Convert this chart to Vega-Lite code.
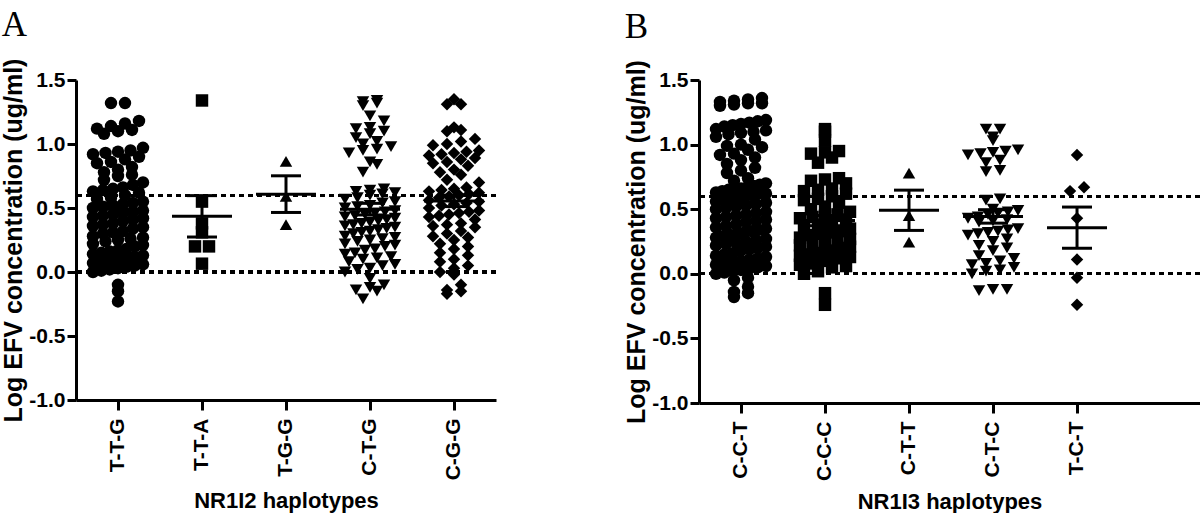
{
  "$schema": "https://vega.github.io/schema/vega-lite/v6.json",
  "background": "white",
  "padding": {"left": 1, "top": 8, "right": 0, "bottom": 0},
  "spacing": 126,
  "config": {
    "view": {"stroke": null},
    "font": "Liberation Sans",
    "axis": {
      "grid": false,
      "domainColor": "black", "domainWidth": 3,
      "tickColor": "black", "tickWidth": 3, "tickSize": 9,
      "labelFont": "Liberation Sans", "labelFontWeight": "bold", "labelFontSize": 21, "labelColor": "black",
      "titleFont": "Liberation Sans", "titleFontWeight": "bold", "titleColor": "black"
    },
    "axisY": {"titleFontSize": 25, "labelPadding": 2, "titlePadding": 2},
    "axisX": {"titleFontSize": 22, "labelAngle": -90, "labelPadding": 8, "titlePadding": 11, "tickSize": 10, "bandPosition": 0.5},
    "title": {"font": "Liberation Serif", "fontSize": 35, "fontWeight": "normal", "anchor": "start", "frame": "bounds", "color": "black", "offset": 15}
  },
  "hconcat": [
    {
      "title": "A",
      "width": 420,
      "height": 320,
      "data": {"values": [
        {"hap":"T-T-G","v":1.32},{"hap":"T-T-G","v":1.32},{"hap":"T-T-G","v":1.10},{"hap":"T-T-G","v":1.12},{"hap":"T-T-G","v":1.16},{"hap":"T-T-G","v":1.18},{"hap":"T-T-G","v":1.14},{"hap":"T-T-G","v":1.08},{"hap":"T-T-G","v":1.11},{"hap":"T-T-G","v":0.95},{"hap":"T-T-G","v":0.93},{"hap":"T-T-G","v":0.90},{"hap":"T-T-G","v":0.94},{"hap":"T-T-G","v":0.92},{"hap":"T-T-G","v":0.97},{"hap":"T-T-G","v":0.82},{"hap":"T-T-G","v":0.85},{"hap":"T-T-G","v":0.88},{"hap":"T-T-G","v":0.80},{"hap":"T-T-G","v":0.86},{"hap":"T-T-G","v":0.72},{"hap":"T-T-G","v":0.75},{"hap":"T-T-G","v":0.78},{"hap":"T-T-G","v":0.70},{"hap":"T-T-G","v":0.76},{"hap":"T-T-G","v":0.62},{"hap":"T-T-G","v":0.65},{"hap":"T-T-G","v":0.68},{"hap":"T-T-G","v":0.64},{"hap":"T-T-G","v":0.60},{"hap":"T-T-G","v":0.66},{"hap":"T-T-G","v":0.63},{"hap":"T-T-G","v":0.52},{"hap":"T-T-G","v":0.55},{"hap":"T-T-G","v":0.58},{"hap":"T-T-G","v":0.50},{"hap":"T-T-G","v":0.54},{"hap":"T-T-G","v":0.57},{"hap":"T-T-G","v":0.53},{"hap":"T-T-G","v":0.51},{"hap":"T-T-G","v":0.42},{"hap":"T-T-G","v":0.45},{"hap":"T-T-G","v":0.48},{"hap":"T-T-G","v":0.40},{"hap":"T-T-G","v":0.44},{"hap":"T-T-G","v":0.47},{"hap":"T-T-G","v":0.41},{"hap":"T-T-G","v":0.46},{"hap":"T-T-G","v":0.43},{"hap":"T-T-G","v":0.32},{"hap":"T-T-G","v":0.35},{"hap":"T-T-G","v":0.38},{"hap":"T-T-G","v":0.30},{"hap":"T-T-G","v":0.34},{"hap":"T-T-G","v":0.37},{"hap":"T-T-G","v":0.36},{"hap":"T-T-G","v":0.31},{"hap":"T-T-G","v":0.22},{"hap":"T-T-G","v":0.25},{"hap":"T-T-G","v":0.28},{"hap":"T-T-G","v":0.20},{"hap":"T-T-G","v":0.24},{"hap":"T-T-G","v":0.27},{"hap":"T-T-G","v":0.21},{"hap":"T-T-G","v":0.26},{"hap":"T-T-G","v":0.12},{"hap":"T-T-G","v":0.15},{"hap":"T-T-G","v":0.18},{"hap":"T-T-G","v":0.10},{"hap":"T-T-G","v":0.14},{"hap":"T-T-G","v":0.17},{"hap":"T-T-G","v":0.11},{"hap":"T-T-G","v":0.16},{"hap":"T-T-G","v":0.13},{"hap":"T-T-G","v":0.02},{"hap":"T-T-G","v":0.05},{"hap":"T-T-G","v":0.08},{"hap":"T-T-G","v":0.00},{"hap":"T-T-G","v":0.04},{"hap":"T-T-G","v":0.07},{"hap":"T-T-G","v":0.03},{"hap":"T-T-G","v":0.06},{"hap":"T-T-G","v":0.01},{"hap":"T-T-G","v":0.09},{"hap":"T-T-G","v":-0.10},{"hap":"T-T-G","v":-0.15},{"hap":"T-T-G","v":-0.23},
        {"hap":"T-T-A","v":1.34},{"hap":"T-T-A","v":0.55},{"hap":"T-T-A","v":0.38},{"hap":"T-T-A","v":0.31},{"hap":"T-T-A","v":0.20},{"hap":"T-T-A","v":0.20},{"hap":"T-T-A","v":0.065},
        {"hap":"T-G-G","v":0.865},{"hap":"T-G-G","v":0.59},{"hap":"T-G-G","v":0.37},
        {"hap":"C-T-G","v":1.33},{"hap":"C-T-G","v":1.34},{"hap":"C-T-G","v":1.32},{"hap":"C-T-G","v":1.30},{"hap":"C-T-G","v":1.22},{"hap":"C-T-G","v":1.18},{"hap":"C-T-G","v":1.12},{"hap":"C-T-G","v":1.10},{"hap":"C-T-G","v":1.08},{"hap":"C-T-G","v":1.13},{"hap":"C-T-G","v":1.05},{"hap":"C-T-G","v":1.00},{"hap":"C-T-G","v":0.98},{"hap":"C-T-G","v":1.02},{"hap":"C-T-G","v":0.95},{"hap":"C-T-G","v":0.93},{"hap":"C-T-G","v":0.96},{"hap":"C-T-G","v":0.86},{"hap":"C-T-G","v":0.84},{"hap":"C-T-G","v":0.78},{"hap":"C-T-G","v":0.65},{"hap":"C-T-G","v":0.64},{"hap":"C-T-G","v":0.62},{"hap":"C-T-G","v":0.63},{"hap":"C-T-G","v":0.60},{"hap":"C-T-G","v":0.61},{"hap":"C-T-G","v":0.58},{"hap":"C-T-G","v":0.55},{"hap":"C-T-G","v":0.52},{"hap":"C-T-G","v":0.50},{"hap":"C-T-G","v":0.57},{"hap":"C-T-G","v":0.54},{"hap":"C-T-G","v":0.51},{"hap":"C-T-G","v":0.48},{"hap":"C-T-G","v":0.45},{"hap":"C-T-G","v":0.42},{"hap":"C-T-G","v":0.40},{"hap":"C-T-G","v":0.47},{"hap":"C-T-G","v":0.44},{"hap":"C-T-G","v":0.41},{"hap":"C-T-G","v":0.46},{"hap":"C-T-G","v":0.38},{"hap":"C-T-G","v":0.35},{"hap":"C-T-G","v":0.32},{"hap":"C-T-G","v":0.30},{"hap":"C-T-G","v":0.37},{"hap":"C-T-G","v":0.34},{"hap":"C-T-G","v":0.31},{"hap":"C-T-G","v":0.36},{"hap":"C-T-G","v":0.28},{"hap":"C-T-G","v":0.25},{"hap":"C-T-G","v":0.22},{"hap":"C-T-G","v":0.20},{"hap":"C-T-G","v":0.27},{"hap":"C-T-G","v":0.24},{"hap":"C-T-G","v":0.21},{"hap":"C-T-G","v":0.18},{"hap":"C-T-G","v":0.15},{"hap":"C-T-G","v":0.12},{"hap":"C-T-G","v":0.10},{"hap":"C-T-G","v":0.17},{"hap":"C-T-G","v":0.14},{"hap":"C-T-G","v":0.08},{"hap":"C-T-G","v":0.05},{"hap":"C-T-G","v":0.02},{"hap":"C-T-G","v":0.00},{"hap":"C-T-G","v":0.06},{"hap":"C-T-G","v":0.03},{"hap":"C-T-G","v":-0.05},{"hap":"C-T-G","v":-0.10},{"hap":"C-T-G","v":-0.12},{"hap":"C-T-G","v":-0.15},{"hap":"C-T-G","v":-0.14},{"hap":"C-T-G","v":-0.21},{"hap":"C-T-G","v":0.43},{"hap":"C-T-G","v":0.39},{"hap":"C-T-G","v":0.33},{"hap":"C-T-G","v":0.26},{"hap":"C-T-G","v":0.11},
        {"hap":"C-G-G","v":1.35},{"hap":"C-G-G","v":1.31},{"hap":"C-G-G","v":1.31},{"hap":"C-G-G","v":1.13},{"hap":"C-G-G","v":1.10},{"hap":"C-G-G","v":1.11},{"hap":"C-G-G","v":1.04},{"hap":"C-G-G","v":1.02},{"hap":"C-G-G","v":1.00},{"hap":"C-G-G","v":0.99},{"hap":"C-G-G","v":0.94},{"hap":"C-G-G","v":0.93},{"hap":"C-G-G","v":0.92},{"hap":"C-G-G","v":0.95},{"hap":"C-G-G","v":0.88},{"hap":"C-G-G","v":0.86},{"hap":"C-G-G","v":0.85},{"hap":"C-G-G","v":0.89},{"hap":"C-G-G","v":0.80},{"hap":"C-G-G","v":0.78},{"hap":"C-G-G","v":0.76},{"hap":"C-G-G","v":0.70},{"hap":"C-G-G","v":0.72},{"hap":"C-G-G","v":0.65},{"hap":"C-G-G","v":0.63},{"hap":"C-G-G","v":0.62},{"hap":"C-G-G","v":0.60},{"hap":"C-G-G","v":0.64},{"hap":"C-G-G","v":0.58},{"hap":"C-G-G","v":0.55},{"hap":"C-G-G","v":0.53},{"hap":"C-G-G","v":0.50},{"hap":"C-G-G","v":0.56},{"hap":"C-G-G","v":0.48},{"hap":"C-G-G","v":0.45},{"hap":"C-G-G","v":0.43},{"hap":"C-G-G","v":0.41},{"hap":"C-G-G","v":0.46},{"hap":"C-G-G","v":0.38},{"hap":"C-G-G","v":0.35},{"hap":"C-G-G","v":0.32},{"hap":"C-G-G","v":0.30},{"hap":"C-G-G","v":0.36},{"hap":"C-G-G","v":0.28},{"hap":"C-G-G","v":0.25},{"hap":"C-G-G","v":0.22},{"hap":"C-G-G","v":0.20},{"hap":"C-G-G","v":0.18},{"hap":"C-G-G","v":0.15},{"hap":"C-G-G","v":0.13},{"hap":"C-G-G","v":0.10},{"hap":"C-G-G","v":0.05},{"hap":"C-G-G","v":0.03},{"hap":"C-G-G","v":0.00},{"hap":"C-G-G","v":-0.02},{"hap":"C-G-G","v":-0.10},{"hap":"C-G-G","v":-0.15},{"hap":"C-G-G","v":-0.17},{"hap":"C-G-G","v":-0.14},{"hap":"C-G-G","v":0.54},{"hap":"C-G-G","v":0.47},{"hap":"C-G-G","v":0.61},{"hap":"C-G-G","v":0.37},{"hap":"C-G-G","v":0.27},{"hap":"C-G-G","v":0.08},{"hap":"C-G-G","v":0.52},{"hap":"C-G-G","v":0.59},{"hap":"C-G-G","v":0.44},{"hap":"C-G-G","v":0.66},{"hap":"C-G-G","v":0.83},{"hap":"C-G-G","v":0.91}
      ]},
      "layer": [
        {"mark": {"type": "rule", "strokeDash": [5, 4], "strokeWidth": 2.5, "color": "black"}, "encoding": {"y": {"datum": 0, "type": "quantitative"}}},
        {"mark": {"type": "rule", "strokeDash": [5, 4], "strokeWidth": 2.5, "color": "black"}, "encoding": {"y": {"datum": 0.6, "type": "quantitative"}}},
        {
          "transform": [
            {"calculate": "floor(datum.v / 0.07)", "as": "row"},
            {"window": [{"op": "row_number", "as": "r"}, {"op": "count", "as": "n"}], "groupby": ["hap", "row"], "sort": [{"field": "v"}], "frame": [null, null]},
            {"calculate": "(datum.r - (datum.n + 1) / 2) * min(1.4, 5 / max(datum.n - 1, 1))", "as": "off"}
          ],
          "mark": {"type": "point", "filled": true, "opacity": 1, "size": 155, "color": "black", "strokeWidth": 0},
          "encoding": {
            "x": {"field": "hap", "type": "nominal", "sort": ["T-T-G", "T-T-A", "T-G-G", "C-T-G", "C-G-G"], "scale": {"type": "band", "paddingInner": 0, "paddingOuter": 0}, "title": "NR1I2 haplotypes"},
            "xOffset": {"field": "off", "type": "quantitative", "scale": {"domain": [-4.2, 4.2]}},
            "y": {"field": "v", "type": "quantitative", "scale": {"domain": [-1, 1.5], "nice": false, "zero": false}, "title": "Log EFV concentration (ug/ml)", "axis": {"values": [-1, -0.5, 0, 0.5, 1, 1.5], "labelExpr": "replace(format(datum.value, '.1f'), '\u2212', '-')"}},
            "shape": {"field": "hap", "type": "nominal", "scale": {"domain": ["T-T-G", "T-T-A", "T-G-G", "C-T-G", "C-G-G"], "range": ["circle", "square", "triangle-up", "triangle-down", "diamond"]}, "legend": null}
          }
        },
        {
          "transform": [
            {"aggregate": [{"op": "mean", "field": "v", "as": "m"}, {"op": "stderr", "field": "v", "as": "se"}], "groupby": ["hap"]},
            {"calculate": "datum.m - datum.se", "as": "lo"},
            {"calculate": "datum.m + datum.se", "as": "hi"}
          ],
          "layer": [
            {"mark": {"type": "rule", "strokeWidth": 3, "color": "black"}, "encoding": {"x": {"field": "hap", "type": "nominal", "sort": ["T-T-G", "T-T-A", "T-G-G", "C-T-G", "C-G-G"], "title": "NR1I2 haplotypes"}, "y": {"field": "lo", "type": "quantitative", "title": "Log EFV concentration (ug/ml)"}, "y2": {"field": "hi"}}},
            {"mark": {"type": "tick", "orient": "horizontal", "size": 60, "thickness": 3, "color": "black", "opacity": 1}, "encoding": {"x": {"field": "hap", "type": "nominal", "sort": ["T-T-G", "T-T-A", "T-G-G", "C-T-G", "C-G-G"], "title": "NR1I2 haplotypes"}, "y": {"field": "m", "type": "quantitative", "title": "Log EFV concentration (ug/ml)"}}},
            {"mark": {"type": "tick", "orient": "horizontal", "size": 30, "thickness": 3, "color": "black", "opacity": 1}, "encoding": {"x": {"field": "hap", "type": "nominal", "sort": ["T-T-G", "T-T-A", "T-G-G", "C-T-G", "C-G-G"], "title": "NR1I2 haplotypes"}, "y": {"field": "lo", "type": "quantitative", "title": "Log EFV concentration (ug/ml)"}}},
            {"mark": {"type": "tick", "orient": "horizontal", "size": 30, "thickness": 3, "color": "black", "opacity": 1}, "encoding": {"x": {"field": "hap", "type": "nominal", "sort": ["T-T-G", "T-T-A", "T-G-G", "C-T-G", "C-G-G"], "title": "NR1I2 haplotypes"}, "y": {"field": "hi", "type": "quantitative", "title": "Log EFV concentration (ug/ml)"}}}
          ]
        }
      ]
    },
    {
      "title": "B",
      "width": 501,
      "height": 323,
      "data": {"values": [
        {"hap":"C-C-T","v":1.32},{"hap":"C-C-T","v":1.31},{"hap":"C-C-T","v":1.33},{"hap":"C-C-T","v":1.35},{"hap":"C-C-T","v":1.34},{"hap":"C-C-T","v":1.30},{"hap":"C-C-T","v":1.32},{"hap":"C-C-T","v":1.36},{"hap":"C-C-T","v":1.18},{"hap":"C-C-T","v":1.17},{"hap":"C-C-T","v":1.15},{"hap":"C-C-T","v":1.19},{"hap":"C-C-T","v":1.16},{"hap":"C-C-T","v":1.10},{"hap":"C-C-T","v":1.08},{"hap":"C-C-T","v":1.12},{"hap":"C-C-T","v":1.06},{"hap":"C-C-T","v":1.09},{"hap":"C-C-T","v":1.11},{"hap":"C-C-T","v":1.00},{"hap":"C-C-T","v":0.98},{"hap":"C-C-T","v":0.96},{"hap":"C-C-T","v":0.99},{"hap":"C-C-T","v":0.92},{"hap":"C-C-T","v":0.90},{"hap":"C-C-T","v":0.93},{"hap":"C-C-T","v":0.85},{"hap":"C-C-T","v":0.82},{"hap":"C-C-T","v":0.80},{"hap":"C-C-T","v":0.78},{"hap":"C-C-T","v":0.72},{"hap":"C-C-T","v":0.70},{"hap":"C-C-T","v":0.74},{"hap":"C-C-T","v":0.68},{"hap":"C-C-T","v":0.66},{"hap":"C-C-T","v":0.65},{"hap":"C-C-T","v":0.64},{"hap":"C-C-T","v":0.62},{"hap":"C-C-T","v":0.63},{"hap":"C-C-T","v":0.67},{"hap":"C-C-T","v":0.61},{"hap":"C-C-T","v":0.60},{"hap":"C-C-T","v":0.58},{"hap":"C-C-T","v":0.57},{"hap":"C-C-T","v":0.55},{"hap":"C-C-T","v":0.53},{"hap":"C-C-T","v":0.52},{"hap":"C-C-T","v":0.50},{"hap":"C-C-T","v":0.56},{"hap":"C-C-T","v":0.54},{"hap":"C-C-T","v":0.48},{"hap":"C-C-T","v":0.47},{"hap":"C-C-T","v":0.45},{"hap":"C-C-T","v":0.43},{"hap":"C-C-T","v":0.42},{"hap":"C-C-T","v":0.40},{"hap":"C-C-T","v":0.46},{"hap":"C-C-T","v":0.38},{"hap":"C-C-T","v":0.36},{"hap":"C-C-T","v":0.35},{"hap":"C-C-T","v":0.33},{"hap":"C-C-T","v":0.31},{"hap":"C-C-T","v":0.30},{"hap":"C-C-T","v":0.37},{"hap":"C-C-T","v":0.28},{"hap":"C-C-T","v":0.27},{"hap":"C-C-T","v":0.25},{"hap":"C-C-T","v":0.23},{"hap":"C-C-T","v":0.22},{"hap":"C-C-T","v":0.20},{"hap":"C-C-T","v":0.26},{"hap":"C-C-T","v":0.18},{"hap":"C-C-T","v":0.16},{"hap":"C-C-T","v":0.15},{"hap":"C-C-T","v":0.13},{"hap":"C-C-T","v":0.12},{"hap":"C-C-T","v":0.10},{"hap":"C-C-T","v":0.08},{"hap":"C-C-T","v":0.06},{"hap":"C-C-T","v":0.05},{"hap":"C-C-T","v":0.03},{"hap":"C-C-T","v":0.02},{"hap":"C-C-T","v":0.00},{"hap":"C-C-T","v":-0.03},{"hap":"C-C-T","v":-0.05},{"hap":"C-C-T","v":-0.10},{"hap":"C-C-T","v":-0.15},{"hap":"C-C-T","v":-0.18},{"hap":"C-C-T","v":-0.14},{"hap":"C-C-T","v":0.44},{"hap":"C-C-T","v":0.41},{"hap":"C-C-T","v":0.34},{"hap":"C-C-T","v":0.32},{"hap":"C-C-T","v":0.29},{"hap":"C-C-T","v":0.24},{"hap":"C-C-T","v":0.21},{"hap":"C-C-T","v":0.19},{"hap":"C-C-T","v":0.14},{"hap":"C-C-T","v":0.11},{"hap":"C-C-T","v":0.09},{"hap":"C-C-T","v":0.07},{"hap":"C-C-T","v":0.04},{"hap":"C-C-T","v":0.01},{"hap":"C-C-T","v":0.59},{"hap":"C-C-T","v":0.62},{"hap":"C-C-T","v":0.66},{"hap":"C-C-T","v":0.69},{"hap":"C-C-T","v":0.51},{"hap":"C-C-T","v":1.14},{"hap":"C-C-T","v":1.04},{"hap":"C-C-T","v":0.88},
        {"hap":"C-C-C","v":1.12},{"hap":"C-C-C","v":1.10},{"hap":"C-C-C","v":1.03},{"hap":"C-C-C","v":0.95},{"hap":"C-C-C","v":0.94},{"hap":"C-C-C","v":0.93},{"hap":"C-C-C","v":0.90},{"hap":"C-C-C","v":0.86},{"hap":"C-C-C","v":0.73},{"hap":"C-C-C","v":0.72},{"hap":"C-C-C","v":0.70},{"hap":"C-C-C","v":0.74},{"hap":"C-C-C","v":0.66},{"hap":"C-C-C","v":0.64},{"hap":"C-C-C","v":0.62},{"hap":"C-C-C","v":0.60},{"hap":"C-C-C","v":0.65},{"hap":"C-C-C","v":0.58},{"hap":"C-C-C","v":0.55},{"hap":"C-C-C","v":0.52},{"hap":"C-C-C","v":0.50},{"hap":"C-C-C","v":0.57},{"hap":"C-C-C","v":0.48},{"hap":"C-C-C","v":0.45},{"hap":"C-C-C","v":0.43},{"hap":"C-C-C","v":0.41},{"hap":"C-C-C","v":0.46},{"hap":"C-C-C","v":0.42},{"hap":"C-C-C","v":0.44},{"hap":"C-C-C","v":0.38},{"hap":"C-C-C","v":0.35},{"hap":"C-C-C","v":0.33},{"hap":"C-C-C","v":0.31},{"hap":"C-C-C","v":0.36},{"hap":"C-C-C","v":0.30},{"hap":"C-C-C","v":0.28},{"hap":"C-C-C","v":0.26},{"hap":"C-C-C","v":0.24},{"hap":"C-C-C","v":0.22},{"hap":"C-C-C","v":0.20},{"hap":"C-C-C","v":0.25},{"hap":"C-C-C","v":0.18},{"hap":"C-C-C","v":0.16},{"hap":"C-C-C","v":0.14},{"hap":"C-C-C","v":0.12},{"hap":"C-C-C","v":0.10},{"hap":"C-C-C","v":0.15},{"hap":"C-C-C","v":0.08},{"hap":"C-C-C","v":0.06},{"hap":"C-C-C","v":0.05},{"hap":"C-C-C","v":0.07},{"hap":"C-C-C","v":0.02},{"hap":"C-C-C","v":0.00},{"hap":"C-C-C","v":-0.15},{"hap":"C-C-C","v":-0.24},{"hap":"C-C-C","v":0.11},{"hap":"C-C-C","v":0.13},{"hap":"C-C-C","v":0.17},{"hap":"C-C-C","v":0.21},{"hap":"C-C-C","v":0.27},{"hap":"C-C-C","v":0.32},
        {"hap":"C-T-T","v":0.78},{"hap":"C-T-T","v":0.45},{"hap":"C-T-T","v":0.245},
        {"hap":"C-T-C","v":1.12},{"hap":"C-T-C","v":1.12},{"hap":"C-T-C","v":1.06},{"hap":"C-T-C","v":1.03},{"hap":"C-T-C","v":0.95},{"hap":"C-T-C","v":0.94},{"hap":"C-T-C","v":0.93},{"hap":"C-T-C","v":0.96},{"hap":"C-T-C","v":0.92},{"hap":"C-T-C","v":0.88},{"hap":"C-T-C","v":0.86},{"hap":"C-T-C","v":0.80},{"hap":"C-T-C","v":0.79},{"hap":"C-T-C","v":0.58},{"hap":"C-T-C","v":0.57},{"hap":"C-T-C","v":0.50},{"hap":"C-T-C","v":0.48},{"hap":"C-T-C","v":0.47},{"hap":"C-T-C","v":0.46},{"hap":"C-T-C","v":0.49},{"hap":"C-T-C","v":0.44},{"hap":"C-T-C","v":0.42},{"hap":"C-T-C","v":0.41},{"hap":"C-T-C","v":0.43},{"hap":"C-T-C","v":0.40},{"hap":"C-T-C","v":0.35},{"hap":"C-T-C","v":0.33},{"hap":"C-T-C","v":0.32},{"hap":"C-T-C","v":0.31},{"hap":"C-T-C","v":0.30},{"hap":"C-T-C","v":0.34},{"hap":"C-T-C","v":0.25},{"hap":"C-T-C","v":0.22},{"hap":"C-T-C","v":0.20},{"hap":"C-T-C","v":0.14},{"hap":"C-T-C","v":0.12},{"hap":"C-T-C","v":0.10},{"hap":"C-T-C","v":0.08},{"hap":"C-T-C","v":0.07},{"hap":"C-T-C","v":0.05},{"hap":"C-T-C","v":0.03},{"hap":"C-T-C","v":0.02},{"hap":"C-T-C","v":0.00},{"hap":"C-T-C","v":-0.12},{"hap":"C-T-C","v":-0.13},{"hap":"C-T-C","v":-0.12},{"hap":"C-T-C","v":0.18},{"hap":"C-T-C","v":0.27},
        {"hap":"T-C-T","v":0.92},{"hap":"T-C-T","v":0.67},{"hap":"T-C-T","v":0.64},{"hap":"T-C-T","v":0.43},{"hap":"T-C-T","v":0.11},{"hap":"T-C-T","v":-0.03},{"hap":"T-C-T","v":-0.24}
      ]},
      "layer": [
        {"mark": {"type": "rule", "strokeDash": [5, 4], "strokeWidth": 2.5, "color": "black"}, "encoding": {"y": {"datum": 0, "type": "quantitative"}}},
        {"mark": {"type": "rule", "strokeDash": [5, 4], "strokeWidth": 2.5, "color": "black"}, "encoding": {"y": {"datum": 0.6, "type": "quantitative"}}},
        {
          "transform": [
            {"calculate": "floor(datum.v / 0.07)", "as": "row"},
            {"window": [{"op": "row_number", "as": "r"}, {"op": "count", "as": "n"}], "groupby": ["hap", "row"], "sort": [{"field": "v"}], "frame": [null, null]},
            {"calculate": "(datum.r - (datum.n + 1) / 2) * min(1.4, 5 / max(datum.n - 1, 1))", "as": "off"}
          ],
          "mark": {"type": "point", "filled": true, "opacity": 1, "size": 155, "color": "black", "strokeWidth": 0},
          "encoding": {
            "x": {"field": "hap", "type": "nominal", "sort": ["C-C-T", "C-C-C", "C-T-T", "C-T-C", "T-C-T"], "scale": {"type": "band", "paddingInner": 0, "paddingOuter": 0.482, "align": 0}, "title": "NR1I3 haplotypes"},
            "xOffset": {"field": "off", "type": "quantitative", "scale": {"domain": [-4.2, 4.2]}},
            "y": {"field": "v", "type": "quantitative", "scale": {"domain": [-1, 1.5], "nice": false, "zero": false}, "title": "Log EFV concentration (ug/ml)", "axis": {"values": [-1, -0.5, 0, 0.5, 1, 1.5], "labelExpr": "replace(format(datum.value, '.1f'), '\u2212', '-')"}},
            "shape": {"field": "hap", "type": "nominal", "scale": {"domain": ["C-C-T", "C-C-C", "C-T-T", "C-T-C", "T-C-T"], "range": ["circle", "square", "triangle-up", "triangle-down", "diamond"]}, "legend": null}
          }
        },
        {
          "transform": [
            {"aggregate": [{"op": "mean", "field": "v", "as": "m"}, {"op": "stderr", "field": "v", "as": "se"}], "groupby": ["hap"]},
            {"calculate": "datum.m - datum.se", "as": "lo"},
            {"calculate": "datum.m + datum.se", "as": "hi"}
          ],
          "layer": [
            {"mark": {"type": "rule", "strokeWidth": 3, "color": "black"}, "encoding": {"x": {"field": "hap", "type": "nominal", "sort": ["C-C-T", "C-C-C", "C-T-T", "C-T-C", "T-C-T"], "title": "NR1I3 haplotypes"}, "y": {"field": "lo", "type": "quantitative", "title": "Log EFV concentration (ug/ml)"}, "y2": {"field": "hi"}}},
            {"mark": {"type": "tick", "orient": "horizontal", "size": 60, "thickness": 3, "color": "black", "opacity": 1}, "encoding": {"x": {"field": "hap", "type": "nominal", "sort": ["C-C-T", "C-C-C", "C-T-T", "C-T-C", "T-C-T"], "title": "NR1I3 haplotypes"}, "y": {"field": "m", "type": "quantitative", "title": "Log EFV concentration (ug/ml)"}}},
            {"mark": {"type": "tick", "orient": "horizontal", "size": 30, "thickness": 3, "color": "black", "opacity": 1}, "encoding": {"x": {"field": "hap", "type": "nominal", "sort": ["C-C-T", "C-C-C", "C-T-T", "C-T-C", "T-C-T"], "title": "NR1I3 haplotypes"}, "y": {"field": "lo", "type": "quantitative", "title": "Log EFV concentration (ug/ml)"}}},
            {"mark": {"type": "tick", "orient": "horizontal", "size": 30, "thickness": 3, "color": "black", "opacity": 1}, "encoding": {"x": {"field": "hap", "type": "nominal", "sort": ["C-C-T", "C-C-C", "C-T-T", "C-T-C", "T-C-T"], "title": "NR1I3 haplotypes"}, "y": {"field": "hi", "type": "quantitative", "title": "Log EFV concentration (ug/ml)"}}}
          ]
        }
      ]
    }
  ]
}
